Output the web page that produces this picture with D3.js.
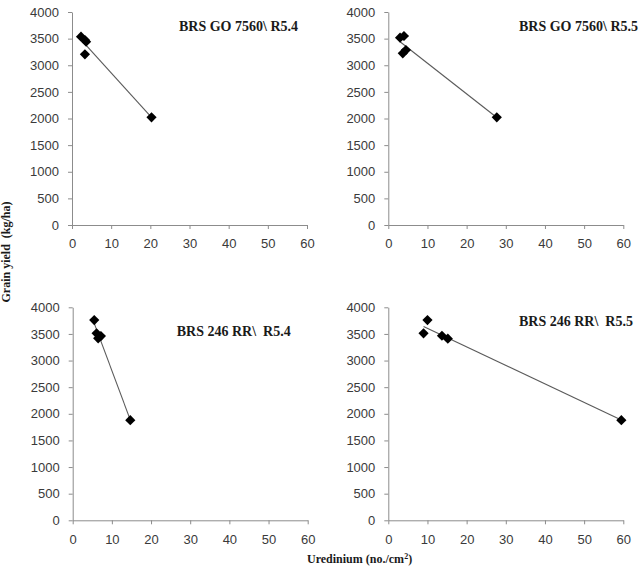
<!DOCTYPE html>
<html>
<head>
<meta charset="utf-8">
<script src="https://cdn.jsdelivr.net/npm/d3@7"></script>
<style>
  body { margin: 0; background: #fff; }
  svg { display: block; }
</style>
</head>
<body>
<svg id="chart" width="639" height="567"></svg>
<script>
// panel titles
var titles = ["BRS GO 7560\\ R5.4", "BRS GO 7560\\ R5.5", "BRS 246 RR\\  R5.4", "BRS 246 RR\\  R5.5"];

// uredinium (no./cm2) per panel
var xGo54 = [2.3, 3.3, 3.6, 3.3, 20.3];
var xGo55 = [3.0, 4.0, 3.7, 4.5, 27.7];
var x24654 = [5.5, 6.1, 6.5, 7.2, 14.7];
var x24655 = [9.0, 10.0, 13.7, 15.2, 59.5];

// grain yield (kg/ha) per panel
var yGo54 = [3536, 3474, 3443, 3205, 2022];
var yGo55 = [3517, 3549, 3224, 3286, 2022];
var y24654 = [3761, 3511, 3417, 3460, 1881];
var y24655 = [3511, 3761, 3466, 3410, 1881];

var xTicks = [0, 10, 20, 30, 40, 50, 60];
var yTicks = [0, 500, 1000, 1500, 2000, 2500, 3000, 3500, 4000];

var xLabel = "Uredinium (no./cm";
var yLabel = "Grain yield  (kg/ha)";

var seriesX = [xGo54, xGo55, x24654, x24655];
var seriesY = [yGo54, yGo55, y24654, y24655];

// layout of the 4 panels (plot area in px)
var panels = [
  { left: 72,    top: 12,    titleX: 179, titleY: 30.5 },
  { left: 388.3, top: 12,    titleX: 519, titleY: 30.5 },
  { left: 72.7,  top: 307.3, titleX: 176.7, titleY: 335.5 },
  { left: 388.3, top: 307.3, titleX: 519, titleY: 325.5 }
];
var pw = 235, ph = 213;

var svg = d3.select("#chart");

panels.forEach(function(p, i){
  var x = d3.scaleLinear().domain([0, 60]).range([p.left, p.left + pw]);
  var y = d3.scaleLinear().domain([0, 4000]).range([p.top + ph, p.top]);

  var data = seriesX[i].map(function(v, k){ return { x: v, y: seriesY[i][k] }; });

  // X軸
  var gx = svg.append("g")
    .attr("transform", "translate(0," + (p.top + ph) + ")")
    .call(d3.axisBottom(x).tickValues(xTicks).tickFormat(d3.format("d"))
      .tickSize(4).tickSizeOuter(0).tickPadding(10));

  // Y軸
  var gy = svg.append("g")
    .attr("transform", "translate(" + p.left + ",0)")
    .call(d3.axisLeft(y).tickValues(yTicks).tickFormat(d3.format("d"))
      .tickSize(4).tickSizeOuter(0).tickPadding(9));

  [gx, gy].forEach(function(g){
    g.select(".domain").attr("stroke", "#8c8c8c");
    g.selectAll(".tick line").attr("stroke", "#8c8c8c");
    g.selectAll(".tick text")
      .attr("fill", "#3a3a3a")
      .style("font-family", "'Liberation Sans', Arial, sans-serif")
      .style("font-size", "13px");
  });

  // 回帰直線
  var mx = d3.mean(data, function(d){ return d.x; });
  var my = d3.mean(data, function(d){ return d.y; });
  var sxy = d3.sum(data, function(d){ return (d.x - mx) * (d.y - my); });
  var sxx = d3.sum(data, function(d){ return (d.x - mx) * (d.x - mx); });
  var slope = sxy / sxx;
  var icpt = my - slope * mx;
  var ext = d3.extent(data, function(d){ return d.x; });
  var fit = ext.map(function(v){ return { x: v, y: icpt + slope * v }; });

  svg.append("path")
    .attr("fill", "none")
    .attr("stroke", "#5a5a5a")
    .attr("stroke-width", 1.1)
    .attr("d", d3.line().x(function(d){ return x(d.x); }).y(function(d){ return y(d.y); })(fit));

  // マーカー
  var sym = d3.symbol().type(d3.symbolSquare).size(52);
  svg.append("g").selectAll("path")
    .data(data)
    .enter().append("path")
    .attr("d", sym)
    .attr("fill", "#000")
    .attr("transform", function(d){ return "translate(" + x(d.x) + "," + y(d.y) + ") rotate(45)"; });

  // タイトル
  svg.append("text")
    .attr("x", p.titleX)
    .attr("y", p.titleY)
    .attr("xml:space", "preserve")
    .style("white-space", "pre")
    .style("font-family", "'Liberation Serif', 'Times New Roman', serif")
    .style("font-weight", "bold")
    .style("font-size", "14px")
    .attr("fill", "#1a1a1a")
    .text(titles[i]);
});

// 軸ラベル
svg.append("text")
  .attr("transform", "translate(10,252) rotate(-90)")
  .attr("text-anchor", "middle")
  .attr("xml:space", "preserve")
  .style("white-space", "pre")
  .style("font-family", "'Liberation Serif', 'Times New Roman', serif")
  .style("font-weight", "bold")
  .style("font-size", "12px")
  .attr("fill", "#1a1a1a")
  .text(yLabel);

var xl = svg.append("text")
  .attr("x", 307)
  .attr("y", 563)
  .style("font-family", "'Liberation Serif', 'Times New Roman', serif")
  .style("font-weight", "bold")
  .style("font-size", "12px")
  .attr("fill", "#1a1a1a")
  .text(xLabel);
xl.append("tspan").attr("dy", -4).style("font-size", "8px").text("2");
xl.append("tspan").attr("dy", 4).text(")");
</script>
</body>
</html>
